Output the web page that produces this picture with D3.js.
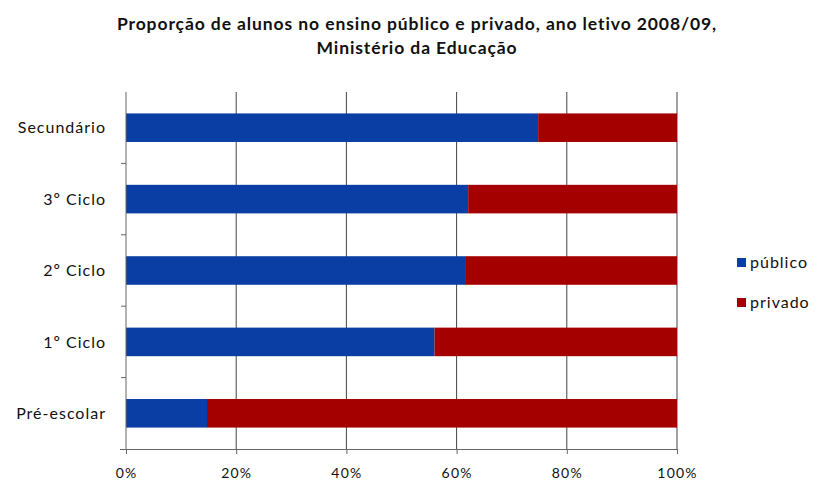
<!DOCTYPE html>
<html>
<head>
<meta charset="utf-8">
<script src="https://cdn.jsdelivr.net/npm/d3@7"></script>
<style>
  html, body { margin: 0; padding: 0; background: #fff; }
  svg { display: block; font-family: Lato, "Open Sans", sans-serif; }
</style>
</head>
<body>
<svg id="chart" width="819" height="480"></svg>
<script>
// Share of students by school level, public vs private (2008/09)
const levels = ["Secundário", "3º Ciclo", "2º Ciclo", "1º Ciclo", "Pré-escolar"];
const publico = [74.8, 62.1, 61.7, 56.0, 14.7];
const privado = [25.2, 37.9, 38.3, 44.0, 85.3];
const seriesNames = ["público", "privado"];
const seriesColors = ["#0a3ea4", "#a40000"];
const xTicks = [0, 20, 40, 60, 80, 100];
const titleLines = [
  "Proporção de alunos no ensino público e privado, ano letivo 2008/09,",
  "Ministério da Educação"
];

const svg = d3.select("#chart");
const margin = { left: 126, right: 142, top: 92, bottom: 31 };
const W = 819, H = 480;

const x = d3.scaleLinear().domain([0, 100]).range([margin.left, W - margin.right]);
const y = d3.scaleBand().domain(levels).range([margin.top, H - margin.bottom]).paddingInner(0.6).paddingOuter(0.3);

// title
svg.append("g").selectAll("text").data(titleLines).join("text")
  .attr("x", 417).attr("y", (d, i) => 30 + i * 24)
  .attr("text-anchor", "middle")
  .attr("font-size", 17.5).attr("font-weight", "bold").attr("fill", "#111")
  .attr("letter-spacing", 0.9)
  .text(d => d);

// vertical gridlines
svg.append("g").selectAll("line").data(xTicks.slice(1)).join("line")
  .attr("x1", d => x(d)).attr("x2", d => x(d))
  .attr("y1", margin.top).attr("y2", H - margin.bottom)
  .attr("stroke", "#444").attr("stroke-width", 1);

// stacked bars
const stackData = levels.map((l, i) => ({ level: l, "público": publico[i], "privado": privado[i] }));
const stacked = d3.stack().keys(seriesNames)(stackData);
svg.append("g").selectAll("g").data(stacked).join("g")
  .attr("fill", (d, i) => seriesColors[i])
  .selectAll("rect").data(d => d).join("rect")
  .attr("x", d => x(d[0]))
  .attr("width", d => x(d[1]) - x(d[0]))
  .attr("y", d => y(d.data.level))
  .attr("height", y.bandwidth());

// bottom axis
const xAxis = d3.axisBottom(x).tickValues(xTicks).tickFormat(d => d + "%").tickSize(5).tickPadding(14);
const gx = svg.append("g").attr("transform", `translate(0,${H - margin.bottom})`).call(xAxis);
gx.select(".domain").attr("stroke", "#666").attr("d", `M${margin.left - 6},0.5H${W - margin.right}`);
gx.selectAll(".tick line").attr("stroke", "#666");
gx.selectAll(".tick text").attr("font-size", 14).attr("fill", "#111")
  .attr("font-family", "Lato, sans-serif").attr("letter-spacing", 1.2);

// left axis with category separators
const gy = svg.append("g");
gy.append("line").attr("x1", margin.left).attr("x2", margin.left)
  .attr("y1", margin.top).attr("y2", H - margin.bottom).attr("stroke", "#666");
const step = y.step();
gy.selectAll("line.sep").data(levels.slice(1)).join("line").attr("class", "sep")
  .attr("x1", margin.left - 5).attr("x2", margin.left)
  .attr("y1", d => y(d) - (step - y.bandwidth()) / 2)
  .attr("y2", d => y(d) - (step - y.bandwidth()) / 2)
  .attr("stroke", "#666");
gy.selectAll("text").data(levels).join("text")
  .attr("x", 106).attr("y", d => y(d) + y.bandwidth() / 2)
  .attr("dy", "0.35em").attr("text-anchor", "end")
  .attr("font-size", 16).attr("fill", "#111").attr("letter-spacing", 1)
  .text(d => d);

// legend
const lg = svg.append("g").selectAll("g").data(seriesNames).join("g")
  .attr("transform", (d, i) => `translate(737,${262.5 + i * 40})`);
lg.append("rect").attr("x", 0).attr("y", -4.5).attr("width", 9).attr("height", 9)
  .attr("fill", (d, i) => seriesColors[i]);
lg.append("text").attr("x", 13).attr("y", 0).attr("dy", "0.35em")
  .attr("font-size", 16).attr("fill", "#111").attr("letter-spacing", 1).text(d => d);
</script>
</body>
</html>
